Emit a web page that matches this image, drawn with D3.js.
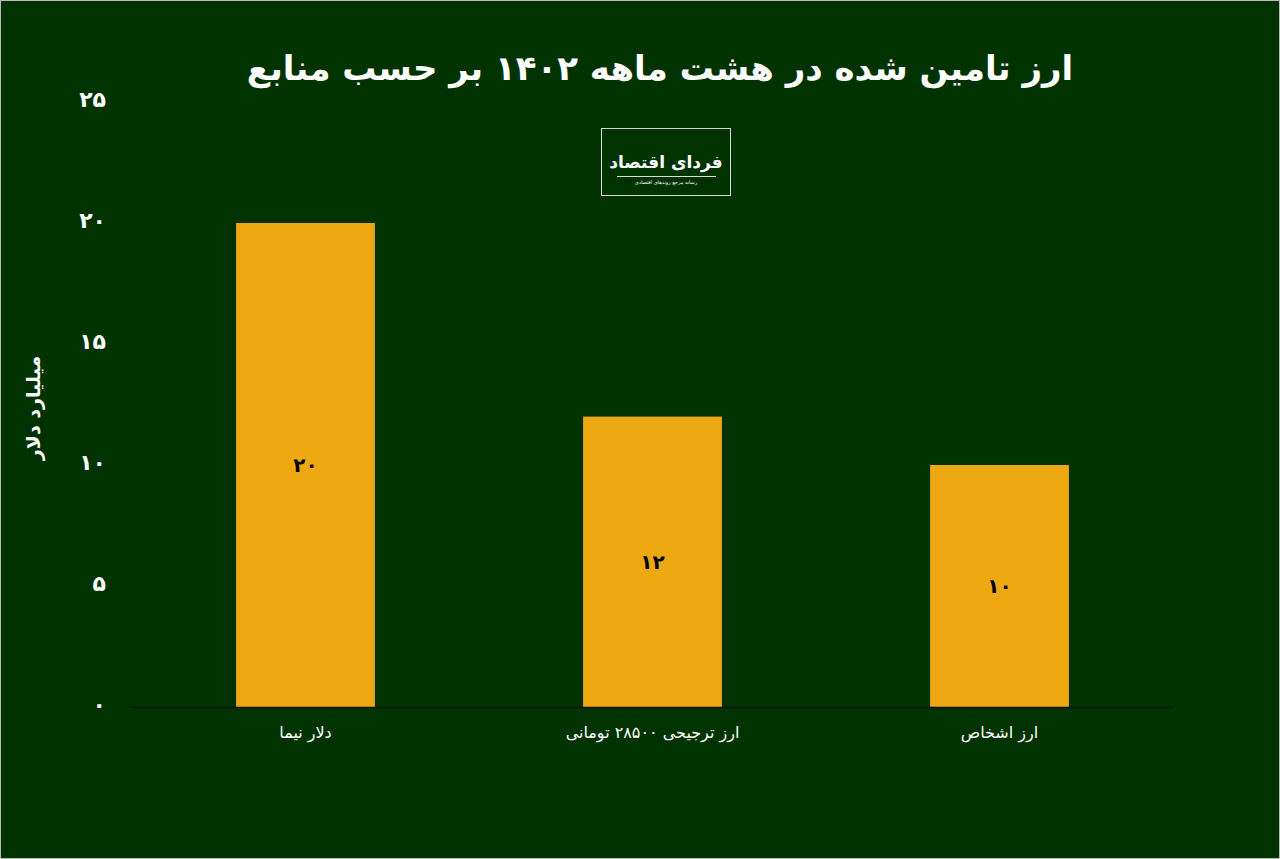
<!DOCTYPE html>
<html lang="fa">
<head>
<meta charset="UTF-8">
<script src="https://cdnjs.cloudflare.com/ajax/libs/d3/7.8.5/d3.min.js"></script>
<title>chart</title>
<style>
  body { margin: 0; background: #fff; }
  text { font-family: "DejaVu Sans", sans-serif; }
</style>
</head>
<body>
<div id="chart"></div>
<script>
  // data
  var categories = ["دلار نیما", "ارز ترجیحی ۲۸۵۰۰ تومانی", "ارز اشخاص"];
  var values = [20, 12, 10];
  var valueLabels = ["۲۰", "۱۲", "۱۰"];
  var tickValues = [0, 5, 10, 15, 20, 25];
  var tickLabels = ["۰", "۵", "۱۰", "۱۵", "۲۰", "۲۵"];

  var W = 1280, H = 859;
  var svg = d3.select("#chart").append("svg")
      .attr("width", W).attr("height", H);

  svg.append("rect")
      .attr("x", 0.5).attr("y", 0.5)
      .attr("width", W - 1).attr("height", H - 1)
      .attr("fill", "#003300")
      .attr("stroke", "#bbbbbb");

  var x = d3.scaleBand()
      .domain(categories)
      .range([132, 1173])
      .paddingInner(0.6)
      .paddingOuter(0.3);

  var y = d3.scaleLinear()
      .domain([0, 25])
      .range([707, 102]);

  // title
  svg.append("text")
      .attr("x", 660).attr("y", 80)
      .attr("text-anchor", "middle")
      .attr("direction", "rtl")
      .attr("fill", "#fff")
      .attr("font-size", 34)
      .attr("font-weight", "bold")
      .text("ارز تامین شده در هشت ماهه ۱۴۰۲ بر حسب منابع");

  // logo box
  var logo = svg.append("g");
  logo.append("rect")
      .attr("x", 601.5).attr("y", 128.5)
      .attr("width", 129).attr("height", 67)
      .attr("fill", "none")
      .attr("stroke", "#d8d8d8");
  logo.append("text")
      .attr("x", 666).attr("y", 168)
      .attr("text-anchor", "middle")
      .attr("fill", "#fff")
      .attr("font-size", 17)
      .attr("font-weight", "bold")
      .text("فردای اقتصاد");
  logo.append("line")
      .attr("x1", 617).attr("x2", 716)
      .attr("y1", 176.5).attr("y2", 176.5)
      .attr("stroke", "#ddd");
  logo.append("text")
      .attr("x", 666).attr("y", 184)
      .attr("text-anchor", "middle")
      .attr("fill", "#fff")
      .attr("font-size", 5)
      .text("رسانه مرجع روندهای اقتصادی");

  // y tick labels
  svg.append("g")
      .selectAll("text")
      .data(tickValues)
      .enter().append("text")
      .attr("x", 106)
      .attr("y", function(d) { return y(d) - 3; })
      .attr("dy", "0.35em")
      .attr("text-anchor", "end")
      .attr("fill", "#fff")
      .attr("font-size", 22)
      .attr("font-weight", "bold")
      .text(function(d, i) { return tickLabels[i]; });

  // y axis title
  svg.append("text")
      .attr("transform", "translate(40,408) rotate(-90)")
      .attr("text-anchor", "middle")
      .attr("fill", "#fff")
      .attr("font-size", 19)
      .attr("font-weight", "bold")
      .text("میلیارد دلار");

  // bars
  svg.append("g")
      .selectAll("rect")
      .data(values)
      .enter().append("rect")
      .attr("x", function(d, i) { return x(categories[i]); })
      .attr("y", function(d) { return y(d); })
      .attr("width", x.bandwidth())
      .attr("height", function(d) { return y(0) - y(d); })
      .attr("fill", "#eea812");

  // value labels
  svg.append("g")
      .selectAll("text")
      .data(values)
      .enter().append("text")
      .attr("x", function(d, i) { return x(categories[i]) + x.bandwidth() / 2; })
      .attr("y", function(d) { return (y(d) + y(0)) / 2; })
      .attr("dy", "0.35em")
      .attr("text-anchor", "middle")
      .attr("fill", "#000")
      .attr("font-size", 20)
      .attr("font-weight", "bold")
      .text(function(d, i) { return valueLabels[i]; });

  // x axis line
  svg.append("line")
      .attr("x1", 132).attr("x2", 1173)
      .attr("y1", y(0) + 0.5).attr("y2", y(0) + 0.5)
      .attr("stroke", "#111")
      .attr("stroke-width", 1.5);

  // category labels
  svg.append("g")
      .selectAll("text")
      .data(categories)
      .enter().append("text")
      .attr("x", function(d) { return x(d) + x.bandwidth() / 2; })
      .attr("y", 738)
      .attr("text-anchor", "middle")
      .attr("direction", "rtl")
      .attr("fill", "#fff")
      .attr("font-size", 16)
      .text(function(d) { return d; });
</script>
</body>
</html>
